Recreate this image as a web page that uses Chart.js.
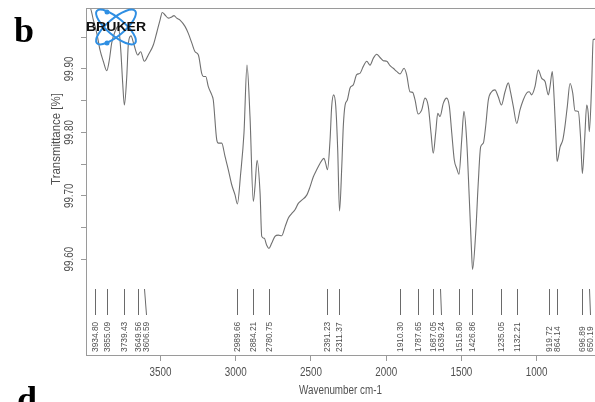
<!DOCTYPE html>
<html>
<head>
<meta charset="utf-8">
<script src="https://cdn.jsdelivr.net/npm/chart.js@4"></script>
<style>
  html, body { margin: 0; padding: 0; background: #fff; }
  #wrap { width: 595px; height: 402px; }
</style>
</head>
<body>
<div id="wrap"><canvas id="irChart" width="595" height="402"></canvas></div>
<script>
/* ---------- spectrum (wavenumber cm-1 / transmittance %) ---------- */
const wavenumber = [
  3994, 3968, 3946, 3923, 3902, 3880, 3857, 3840, 3824, 3802,
  3780, 3764, 3751, 3740, 3724, 3713, 3696, 3676, 3651, 3632,
  3607, 3581, 3547, 3525, 3503, 3488, 3470, 3448, 3425, 3410,
  3392, 3370, 3337, 3315, 3292, 3270, 3248, 3226, 3215, 3199,
  3182, 3159, 3149, 3126, 3115, 3093, 3071, 3049, 3026, 3004,
  2989, 2967, 2945, 2925, 2905, 2883, 2872, 2858, 2838, 2827,
  2810, 2794, 2779, 2761, 2739, 2717, 2694, 2672, 2650, 2628,
  2606, 2584, 2561, 2528, 2506, 2484, 2462, 2440, 2413, 2402,
  2390, 2373, 2362, 2349, 2335, 2322, 2310, 2295, 2285, 2273,
  2258, 2240, 2218, 2196, 2174, 2152, 2129, 2107, 2085, 2063,
  2041, 2019, 1996, 1974, 1953, 1930, 1908, 1881, 1864, 1842,
  1824, 1808, 1788, 1764, 1742, 1720, 1702, 1687, 1671, 1657,
  1642, 1620, 1598, 1580, 1564, 1547, 1531, 1516, 1498, 1483,
  1465, 1447, 1433, 1426, 1405, 1388, 1372, 1354, 1339, 1321,
  1299, 1277, 1255, 1234, 1210, 1188, 1174, 1155, 1132, 1111,
  1089, 1066, 1049, 1033, 1011, 989, 966, 944, 922, 911,
  896, 883, 871, 864, 844, 826, 812, 796, 778, 760,
  745, 723, 707, 696, 681, 667, 657, 650, 634, 624,
  612
];
const transmittance = [
  99.996, 99.996, 99.977, 99.956, 99.930, 99.912, 99.897, 99.914, 99.941, 99.959,
  99.967, 99.930, 99.877, 99.843, 99.888, 99.941, 99.952, 99.938, 99.922, 99.927,
  99.912, 99.922, 99.938, 99.957, 99.977, 99.989, 99.985, 99.980, 99.982, 99.984,
  99.980, 99.977, 99.967, 99.956, 99.941, 99.927, 99.922, 99.893, 99.888, 99.888,
  99.872, 99.859, 99.851, 99.788, 99.783, 99.783, 99.762, 99.741, 99.717, 99.701,
  99.687, 99.735, 99.799, 99.906, 99.825, 99.691, 99.714, 99.756, 99.704, 99.636,
  99.633, 99.622, 99.617, 99.625, 99.636, 99.638, 99.637, 99.651, 99.665, 99.672,
  99.678, 99.688, 99.693, 99.701, 99.714, 99.730, 99.741, 99.751, 99.759, 99.751,
  99.741, 99.788, 99.841, 99.859, 99.841, 99.772, 99.676, 99.746, 99.809, 99.843,
  99.851, 99.870, 99.875, 99.891, 99.893, 99.904, 99.912, 99.906, 99.917, 99.923,
  99.918, 99.913, 99.912, 99.905, 99.901, 99.896, 99.892, 99.901, 99.891, 99.864,
  99.863, 99.851, 99.829, 99.835, 99.854, 99.841, 99.799, 99.767, 99.799, 99.830,
  99.825, 99.846, 99.854, 99.841, 99.799, 99.756, 99.743, 99.734, 99.788, 99.833,
  99.788, 99.693, 99.615, 99.584, 99.641, 99.720, 99.777, 99.783, 99.809, 99.851,
  99.864, 99.867, 99.856, 99.843, 99.864, 99.878, 99.864, 99.841, 99.814, 99.835,
  99.851, 99.862, 99.864, 99.859, 99.872, 99.898, 99.885, 99.880, 99.859, 99.872,
  99.896, 99.851, 99.788, 99.754, 99.777, 99.788, 99.809, 99.841, 99.877, 99.862,
  99.834, 99.833, 99.788, 99.735, 99.788, 99.843, 99.830, 99.801, 99.877, 99.946,
  99.947
];

/* ---------- picked peaks ---------- */
const peaks = [
  3934.80, 3855.09, 3739.43, 3649.56, 3606.59, 2989.66, 2884.21, 2780.75,
  2391.23, 2311.37, 1910.30, 1787.65, 1687.05, 1639.24, 1515.80, 1426.86,
  1235.05, 1132.21, 919.72, 864.14, 696.89, 650.19
];

/* ---------- axes ---------- */
const xTicks = [3500, 3000, 2500, 2000, 1500, 1000];
const yTicks = [99.60, 99.65, 99.70, 99.75, 99.80, 99.85, 99.90, 99.95];
const yTickLabels = [99.60, 99.70, 99.80, 99.90];
const xRange = [612, 3995];
const yRange = [99.449, 99.996];

const sans = '"Liberation Sans", Arial, sans-serif';
const axisGrey = "#9a9a9a";
const textGrey = "#505050";

function putText(ctx, str, x, y, o) {
  ctx.save();
  ctx.translate(x, y);
  if (o.rot) ctx.rotate(o.rot);
  ctx.scale(o.sx || 1, 1);
  ctx.font = o.font;
  ctx.fillStyle = o.color || textGrey;
  ctx.textAlign = o.align || "center";
  ctx.textBaseline = o.base || "middle";
  ctx.fillText(str, 0, 0);
  ctx.restore();
}

/* --------------- frame, labels, peak marks, logo --------------- */
const decorations = {
  id: "decorations",
  afterDraw(chart) {
    const ctx = chart.ctx;
    const area = chart.chartArea;
    const xs = chart.scales.x;
    const ys = chart.scales.y;

    ctx.save();
    ctx.strokeStyle = axisGrey;
    ctx.lineWidth = 1;
    ctx.beginPath();
    ctx.moveTo(area.left, area.top + 0.5);
    ctx.lineTo(area.right, area.top + 0.5);
    ctx.stroke();
    ctx.restore();

    // y tick labels, rotated
    yTickLabels.forEach(v => {
      putText(ctx, v.toFixed(2), 70, ys.getPixelForValue(v),
        { font: "12px " + sans, rot: -Math.PI / 2, sx: 0.82 });
    });
    putText(ctx, "Transmittance [%]", 56, 139,
      { font: "13px " + sans, rot: -Math.PI / 2, sx: 0.88 });

    // x tick labels
    xTicks.forEach(v => {
      putText(ctx, String(v), xs.getPixelForValue(v), 373,
        { font: "12px " + sans, sx: 0.82 });
    });
    putText(ctx, "Wavenumber cm-1", (area.left + area.right) / 2, 391,
      { font: "12px " + sans, sx: 0.82 });

    // peak marks + labels
    let prev = -Infinity;
    ctx.save();
    ctx.strokeStyle = "#6a6a6a";
    ctx.lineWidth = 1;
    peaks.forEach(p => {
      const px = xs.getPixelForValue(p);
      const lx = Math.max(px, prev + 8);
      prev = lx;
      ctx.beginPath();
      ctx.moveTo(Math.round(px) + 0.5, 289);
      ctx.lineTo(Math.round(lx) + 0.5, 315);
      ctx.stroke();
      putText(ctx, p.toFixed(2), lx + 0.5, 352,
        { font: "9px " + sans, rot: -Math.PI / 2, sx: 0.93, align: "left" });
    });
    ctx.restore();

    // Bruker logo
    ctx.save();
    ctx.strokeStyle = "#2f8fe3";
    ctx.fillStyle = "#2f8fe3";
    ctx.lineWidth = 2;
    const cx = 116, cy = 27, a = 25, b = 8.5, th = 40 * Math.PI / 180;
    [th, -th].forEach(t => {
      ctx.beginPath();
      ctx.ellipse(cx, cy, a, b, t, 0, Math.PI * 2);
      ctx.stroke();
    });
    [[107, 12], [107, 43]].forEach(([dx, dy]) => {
      ctx.beginPath();
      ctx.arc(dx, dy, 2.5, 0, Math.PI * 2);
      ctx.fill();
    });
    ctx.restore();
    putText(ctx, "BRUKER", 116, 27,
      { font: "bold 13px " + sans, sx: 1.08, color: "#111" });

    // panel letters
    putText(ctx, "b", 14, 42,
      { font: 'bold 36px "Liberation Serif", "Times New Roman", serif', align: "left", base: "alphabetic", color: "#000" });
    putText(ctx, "d", 17, 411,
      { font: 'bold 36px "Liberation Serif", "Times New Roman", serif', align: "left", base: "alphabetic", color: "#000" });
  }
};

const points = wavenumber.map((w, i) => ({ x: w, y: transmittance[i] }));

new Chart(document.getElementById("irChart"), {
  type: "line",
  plugins: [decorations],
  data: {
    datasets: [{
      data: points,
      borderColor: "#707070",
      borderWidth: 1.1,
      pointRadius: 0,
      cubicInterpolationMode: "monotone",
      fill: false
    }]
  },
  options: {
    responsive: false,
    devicePixelRatio: 1,
    animation: false,
    layout: { padding: { left: 0, top: 8, right: 0, bottom: 0 } },
    plugins: { legend: { display: false }, tooltip: { enabled: false } },
    scales: {
      x: {
        type: "linear",
        reverse: true,
        min: xRange[0],
        max: xRange[1],
        afterBuildTicks: s => { s.ticks = xTicks.map(v => ({ value: v })); },
        afterFit: s => { s.height = 47; },
        ticks: { display: false },
        grid: { drawOnChartArea: false, tickLength: 6, color: axisGrey },
        border: { color: axisGrey }
      },
      y: {
        type: "linear",
        min: yRange[0],
        max: yRange[1],
        afterBuildTicks: s => { s.ticks = yTicks.map(v => ({ value: v })); },
        afterFit: s => { s.width = 86; },
        ticks: { display: false },
        grid: { drawOnChartArea: false, tickLength: 5, color: axisGrey },
        border: { color: axisGrey }
      }
    }
  }
});
</script>
</body>
</html>
